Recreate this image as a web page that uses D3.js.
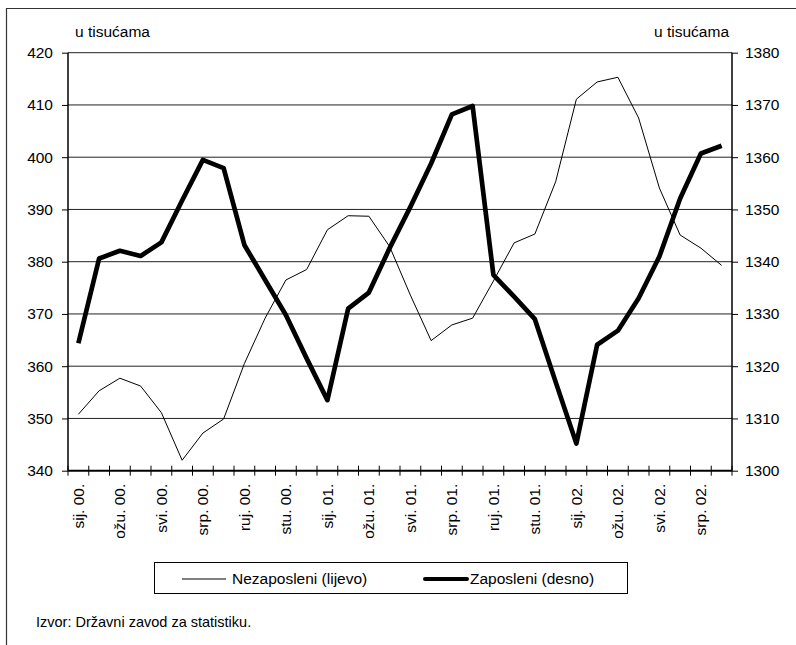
<!DOCTYPE html>
<html>
<head>
<meta charset="utf-8">
<script src="https://cdn.jsdelivr.net/npm/d3@7"></script>
<style>
  body { margin: 0; background: #fff; }
  svg { display: block; font-family: "Liberation Sans", Arial, sans-serif; }
</style>
</head>
<body>
<svg id="chart" width="796" height="645"></svg>
<script>
const categories = [
  "sij. 00.","velj. 00.","ožu. 00.","tra. 00.","svi. 00.","lip. 00.","srp. 00.","kol. 00.","ruj. 00.","lis. 00.","stu. 00.","pro. 00.",
  "sij. 01.","velj. 01.","ožu. 01.","tra. 01.","svi. 01.","lip. 01.","srp. 01.","kol. 01.","ruj. 01.","lis. 01.","stu. 01.","pro. 01.",
  "sij. 02.","velj. 02.","ožu. 02.","tra. 02.","svi. 02.","lip. 02.","srp. 02.","kol. 02."
];
const tickLabels = ["sij. 00.","ožu. 00.","svi. 00.","srp. 00.","ruj. 00.","stu. 00.","sij. 01.","ožu. 01.","svi. 01.","srp. 01.","ruj. 01.","stu. 01.","sij. 02.","ožu. 02.","svi. 02.","srp. 02."];
const unemployed = [350.8,355.3,357.7,356.2,351.1,342.0,347.2,349.9,360.5,369.2,376.5,378.5,386.1,388.8,388.7,382.9,373.6,364.9,367.9,369.2,376.3,383.6,385.3,395.3,411.1,414.4,415.3,407.5,394.1,385.1,382.6,379.3];
const employed = [1324.4,1340.6,1342.1,1341.1,1343.7,1351.7,1359.5,1357.9,1343.2,1336.5,1329.8,1321.5,1313.5,1331.0,1334.1,1342.6,1350.5,1358.8,1368.2,1369.8,1337.5,1333.3,1329.0,1317.0,1305.2,1324.1,1326.8,1333.0,1341.0,1352.1,1360.7,1362.2];
const leftTicks = [340,350,360,370,380,390,400,410,420];
const rightTicks = [1300,1310,1320,1330,1340,1350,1360,1370,1380];
const seriesNames = ["Nezaposleni (lijevo)","Zaposleni (desno)"];
const unitLabel = "u tisućama";
const sourceText = "Izvor: Državni zavod za statistiku.";

const svg = d3.select("#chart");
const L = 68, R = 732, T = 52.7, B = 470.7;
const FS = 15.5;

// outer frame (left and top edges visible)
svg.append("path").attr("d", `M6.5,645 L6.5,8.5 L800,8.5`).attr("fill","none").attr("stroke","#333").attr("stroke-width",1.2);

const x = d3.scaleBand().domain(categories).range([L, R]).padding(0);
const yL = d3.scaleLinear().domain([340,420]).range([B, T]);
const yR = d3.scaleLinear().domain([1300,1380]).range([B, T]);
const cx = d => x(d) + x.bandwidth()/2;

// gridlines
svg.append("g").selectAll("line").data(leftTicks.slice(1)).join("line")
  .attr("x1", L).attr("x2", R).attr("y1", d => yL(d)).attr("y2", d => yL(d))
  .attr("stroke", "#222").attr("stroke-width", 1);

// left axis
const gL = svg.append("g").attr("transform", `translate(${L},0)`)
  .call(d3.axisLeft(yL).tickValues(leftTicks).tickSize(6).tickPadding(9).tickFormat(d3.format("d")));
gL.selectAll("text").attr("font-size", FS).attr("fill", "#000").attr("font-family","Liberation Sans, Arial, sans-serif");
gL.selectAll("line").attr("stroke", "#000");
gL.select(".domain").attr("stroke", "#000").attr("stroke-width", 1.5).attr("d", `M0,${B}V${T}`);

// right axis
const gR = svg.append("g").attr("transform", `translate(${R},0)`)
  .call(d3.axisRight(yR).tickValues(rightTicks).tickSize(6).tickPadding(7).tickFormat(d3.format("d")));
gR.selectAll("text").attr("font-size", FS).attr("fill", "#000").attr("font-family","Liberation Sans, Arial, sans-serif");
gR.selectAll("line").attr("stroke", "#000");
gR.select(".domain").attr("stroke", "#000").attr("stroke-width", 1.5).attr("d", `M0,${B}V${T}`);

// bottom axis: ticks at category boundaries crossing the axis
const bounds = categories.map(c => x(c)).concat([R]);
svg.append("g").selectAll("line").data(bounds).join("line")
  .attr("x1", d => d).attr("x2", d => d).attr("y1", B - 5).attr("y2", B + 5)
  .attr("stroke", "#000").attr("stroke-width", 1);
svg.append("line").attr("x1", L).attr("x2", R).attr("y1", B).attr("y2", B)
  .attr("stroke", "#000").attr("stroke-width", 2);

// category labels (rotated)
const gB = svg.append("g").attr("transform", `translate(0,${B})`)
  .call(d3.axisBottom(x).tickValues(tickLabels).tickSize(0).tickPadding(0));
gB.select(".domain").remove();
gB.selectAll("text")
  .attr("font-size", FS).attr("fill", "#000").attr("font-family","Liberation Sans, Arial, sans-serif")
  .attr("transform", "rotate(-90)")
  .attr("text-anchor", "end")
  .attr("x", -13).attr("y", 0).attr("dy", "0.35em");

// lines
const lineL = d3.line().x((d,i) => cx(categories[i])).y(d => yL(d));
const lineR = d3.line().x((d,i) => cx(categories[i])).y(d => yR(d));
svg.append("path").datum(unemployed).attr("d", lineL).attr("fill","none").attr("stroke","#000").attr("stroke-width",1).attr("stroke-linejoin","round");
svg.append("path").datum(employed).attr("d", lineR).attr("fill","none").attr("stroke","#000").attr("stroke-width",4.7).attr("stroke-linejoin","round");

// unit labels
svg.append("text").attr("x", 75).attr("y", 37).attr("font-size", FS).text(unitLabel);
svg.append("text").attr("x", 729).attr("y", 37).attr("text-anchor","end").attr("font-size", FS).text(unitLabel);

// legend
svg.append("rect").attr("x", 154.5).attr("y", 562.5).attr("width", 473).attr("height", 31).attr("fill","#fff").attr("stroke","#000").attr("stroke-width",1);
svg.append("line").attr("x1",182).attr("x2",226).attr("y1",579).attr("y2",579).attr("stroke","#000").attr("stroke-width",1);
svg.append("text").attr("x",232).attr("y",584).attr("font-size",FS).text(seriesNames[0]);
svg.append("line").attr("x1",425).attr("x2",467).attr("y1",579).attr("y2",579).attr("stroke","#000").attr("stroke-width",4).attr("stroke-linecap","round");
svg.append("text").attr("x",470).attr("y",584).attr("font-size",FS).text(seriesNames[1]);

// source
svg.append("text").attr("x",36).attr("y",627).attr("font-size",14.5).text(sourceText);
</script>
</body>
</html>
